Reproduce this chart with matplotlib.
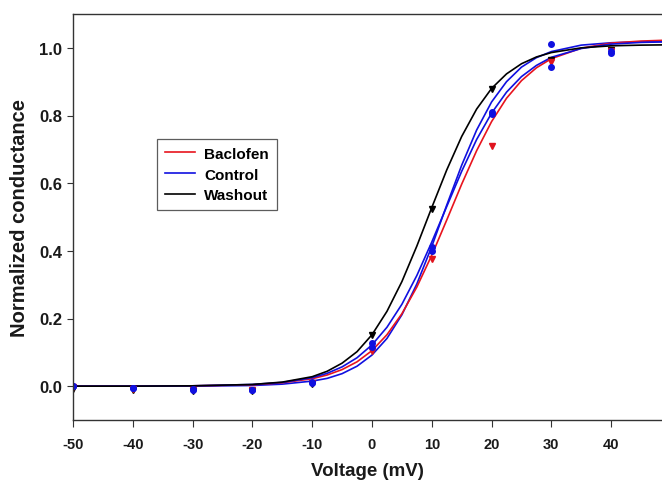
import numpy as np
import matplotlib
matplotlib.use("Agg")
import matplotlib.pyplot as plt

plt.rcParams["axes.unicode_minus"] = False

# fitted curves
v_fit = [-50, -40, -30, -20, -15, -10, -7.5, -5, -2.5, 0, 2.5, 5, 7.5, 10,
         12.5, 15, 17.5, 20, 22.5, 25, 27.5, 30, 35, 40, 45, 50]
baclofen_fit = [0.000, 0.000, 0.001, 0.004, 0.010, 0.022, 0.033, 0.049, 0.072, 0.105,
                0.152, 0.214, 0.293, 0.387, 0.491, 0.597, 0.696, 0.782, 0.851, 0.903,
                0.941, 0.968, 0.999, 1.014, 1.020, 1.023]
control_fit = [0.000, 0.000, 0.001, 0.005, 0.011, 0.025, 0.038, 0.057, 0.084, 0.122,
               0.174, 0.242, 0.327, 0.426, 0.531, 0.635, 0.729, 0.807, 0.869, 0.915,
               0.948, 0.972, 0.998, 1.011, 1.016, 1.018]
control2_fit = [0.000, 0.000, 0.000, 0.002, 0.006, 0.015, 0.023, 0.037, 0.059, 0.092,
                0.141, 0.211, 0.302, 0.413, 0.535, 0.653, 0.757, 0.840, 0.900, 0.943,
                0.971, 0.989, 1.008, 1.015, 1.018, 1.019]
washout_fit = [0.000, 0.000, 0.001, 0.005, 0.012, 0.028, 0.044, 0.068, 0.102, 0.152,
               0.221, 0.309, 0.414, 0.528, 0.639, 0.738, 0.819, 0.880, 0.923, 0.953,
               0.973, 0.986, 1.000, 1.006, 1.008, 1.009]

# measured points
v_pts = [-50, -40, -30, -20, -10, 0, 10, 20, 30, 40]
baclofen_pts = [-0.003, -0.008, -0.010, -0.012, 0.010, 0.105, 0.375, 0.711, 0.957, 0.990]
control_pts = [0.000, -0.005, -0.008, -0.010, 0.012, 0.127, 0.410, 0.810, 1.010, 0.985]
control2_pts = [0.000, -0.006, -0.010, -0.010, 0.010, 0.115, 0.400, 0.805, 0.943, 0.990]
washout_pts = [-0.008, -0.012, -0.015, -0.015, 0.005, 0.150, 0.524, 0.879, 0.965, 0.995]

fig = plt.figure(figsize=(6.62, 4.89), dpi=100)
ax = fig.add_axes([73 / 662, 1 - 421 / 489, 1 - 73 / 662, (421 - 15) / 489])

ax.plot(v_fit, control2_fit, color="#1010e0", lw=1.2)
ax.plot(v_fit, baclofen_fit, color="#e8141e", lw=1.2, label="Baclofen")
ax.plot(v_fit, control_fit, color="#1010e0", lw=1.2, label="Control")
ax.plot(v_fit, washout_fit, color="black", lw=1.2, label="Washout")

ax.plot(v_pts, washout_pts, "v", color="black", ms=4.5, ls="none")
ax.plot(v_pts, baclofen_pts, "v", color="#e0141e", ms=4.5, ls="none")
ax.plot(v_pts, control2_pts, "o", color="#1010e0", ms=4, ls="none")
ax.plot(v_pts, control_pts, "o", color="#1010e0", ms=4, ls="none")

ax.set_xlim(-50, 48.5)
ax.set_ylim(-0.1, 1.1)
ax.set_xticks(np.arange(-50, 41, 10))
ax.set_yticks([0.0, 0.2, 0.4, 0.6, 0.8, 1.0])
ax.set_yticklabels(["0.0", "0.2", "0.4", "0.6", "0.8", "1.0"])
ax.spines["right"].set_visible(False)
for s in ["left", "bottom", "top"]:
    ax.spines[s].set_color("#333333")
    ax.spines[s].set_linewidth(1.0)
ax.tick_params(axis="x", direction="out", length=5, width=0.8, pad=7, colors="#333333")
ax.tick_params(axis="y", direction="out", length=4, width=0.8, pad=4, colors="#333333")

for lbl in ax.get_xticklabels():
    lbl.set_family("Liberation Sans")
    lbl.set_fontweight("bold")
    lbl.set_fontsize(10.5)
    lbl.set_color("#1a1a1a")
for lbl in ax.get_yticklabels():
    lbl.set_family("Liberation Sans")
    lbl.set_fontweight("bold")
    lbl.set_fontsize(12)
    lbl.set_color("#1a1a1a")

ax.set_xlabel("Voltage (mV)", family="Liberation Sans", fontweight="bold", fontsize=13.5,
              color="#1a1a1a", labelpad=8)
fig.text(20 / 662, 1 - 218 / 489, "Normalized conductance", family="Liberation Sans",
         fontweight="bold", fontsize=14.5, rotation=90, ha="center", va="center",
         color="#1a1a1a")

leg = ax.legend(loc="upper left", bbox_to_anchor=(157 / 662, 1 - 140 / 489),
                bbox_transform=fig.transFigure, frameon=True, fancybox=False,
                prop={"family": "Liberation Sans", "weight": "bold", "size": 11},
                handlelength=2.0, handletextpad=0.6, labelspacing=0.45,
                borderpad=0.5, borderaxespad=0)
leg.get_frame().set_edgecolor("#333333")
leg.get_frame().set_linewidth(0.9)

fig.savefig("out.png", dpi=100)
